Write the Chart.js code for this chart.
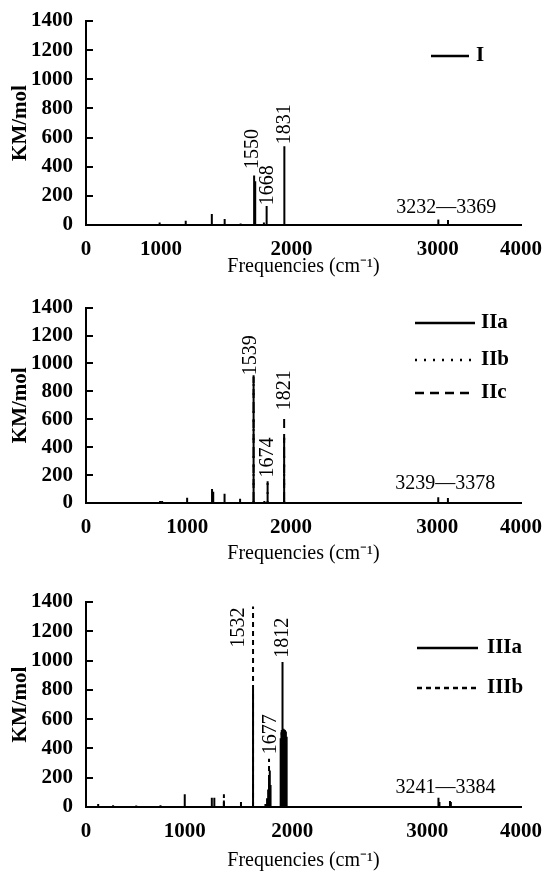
<!DOCTYPE html>
<html><head><meta charset="utf-8">
<script src="https://cdn.jsdelivr.net/npm/chart.js@4.4.0/dist/chart.umd.min.js"></script>
<style>
html,body{margin:0;padding:0;background:#fff;width:546px;height:871px;overflow:hidden}
.p{position:absolute;left:0;width:546px}
</style></head><body>
<div class="p" style="top:0;height:290px"><canvas id="c1"></canvas></div>
<div class="p" style="top:290px;height:290px"><canvas id="c2"></canvas></div>
<div class="p" style="top:580px;height:291px"><canvas id="c3"></canvas></div>
<script>
// ---------- data ----------
const xTickLabels = ['0', '1000', '2000', '3000', '4000'];
// values at which the reference prints each x tick label
const xTickPosI   = [0, 690, 1890, 3235, 4000];
const xTickPosII  = [0, 930, 1885, 3229, 4000];
const xTickPosIII = [0, 908, 1896, 3139, 4000];

// Panel I
const freqI = [230, 677, 917, 1157, 1275, 1422, 1546, 1556, 1636, 1661, 1824, 3240, 3329];
const intI  = [5, 18, 30, 75, 41, 11, 340, 300, 18, 130, 540, 38, 34];
const labelTextI = ['1550', '1668', '1831'];
const labelFreqI = [1530, 1668, 1826];
const labelValI  = [384, 135, 555];
const rangeTextI = '3232\u20143369';
const rangeFreqI = 3313, rangeValI = 117;

// Panel II
const freqIIa = [60, 240, 681, 700, 930, 1159, 1170, 1274, 1417, 1541, 1640, 1670, 1822, 3239, 3328];
const intIIa  = [5, 5, 15, 15, 37, 100, 80, 66, 30, 905, 15, 155, 470, 42, 35];
const freqIIb = [1541, 1670, 1822];
const intIIb  = [880, 150, 515];
const freqIIc = [1541, 1822];
const intIIc  = [915, 645];
const labelTextII = ['1539', '1674', '1821'];
const labelFreqII = [1519, 1669, 1828];
const labelValII  = [915, 183, 665];
const rangeTextII = '3239\u20143378';
const rangeFreqII = 3303, rangeValII = 136;

// Panel III
const freqIIIa = [112, 249, 462, 685, 908, 1157, 1180, 1268, 1425, 1536, 1650, 1665, 1675, 1683, 1690, 1697,
                  1790, 1797, 1807, 1815, 1822, 1830, 1838, 1845, 3241, 3347];
const intIIIa  = [20, 12, 10, 12, 87, 64, 64, 45, 34, 800, 20, 60, 120, 200, 250, 150,
                  470, 510, 990, 535, 530, 525, 515, 480, 64, 41];
const freqIIIb = [1268, 1536, 1683, 1800, 1826, 3250, 3355];
const intIIIb  = [87, 1370, 330, 540, 545, 50, 35];
const labelTextIII = ['1532', '1812', '1677'];
const labelFreqIII = [1409, 1807, 1695];
const labelValIII  = [1089, 1020, 360];
const rangeTextIII = '3241\u20143384';
const rangeFreqIII = 3306, rangeValIII = 132;

const yTickStep = 200;

// ---------- rendering ----------
const FONT = '"Liberation Serif", "Times New Roman", serif';
Chart.defaults.font.family = FONT;
Chart.defaults.color = '#000';

function sticks(freq, inten) {
  const d = [];
  freq.forEach((f, i) => { d.push({x: f, y: 0}, {x: f, y: inten[i]}, {x: f, y: null}); });
  return d;
}

const annot = {
  id: 'annot',
  afterDraw(chart, args, o) {
    const {ctx, chartArea} = chart;
    const x = chart.scales.x, y = chart.scales.y;
    ctx.save();
    ctx.fillStyle = '#000';
    ctx.strokeStyle = '#000';
    // inward y tick marks
    ctx.lineWidth = 2;
    y.ticks.forEach(t => {
      const py = Math.round(y.getPixelForValue(t.value));
      ctx.beginPath();
      ctx.moveTo(chartArea.left - 1, py);
      ctx.lineTo(chartArea.left + 7, py);
      ctx.stroke();
    });
    ctx.font = '20px ' + FONT;
    o.labelText.forEach((t, i) => {
      const px = x.getPixelForValue(o.labelFreq[i]);
      const py = y.getPixelForValue(o.labelVal[i]);
      ctx.save();
      ctx.translate(px, py);
      ctx.rotate(-Math.PI / 2);
      ctx.textAlign = 'left';
      ctx.textBaseline = 'middle';
      ctx.fillText(t, 0, 0);
      ctx.restore();
    });
    ctx.textAlign = 'center';
    ctx.textBaseline = 'middle';
    ctx.fillText(o.rangeText, x.getPixelForValue(o.rangeFreq), y.getPixelForValue(o.rangeVal));
    // legend
    const lg = o.legend;
    chart.data.datasets.forEach((ds, i) => {
      const yy = lg.ys[i];
      ctx.beginPath();
      ctx.setLineDash(ds.borderDash || []);
      ctx.lineWidth = 2.5;
      ctx.moveTo(lg.x0, yy);
      ctx.lineTo(lg.x1, yy);
      ctx.stroke();
      ctx.setLineDash([]);
      ctx.font = 'bold 21px ' + FONT;
      ctx.textAlign = 'left';
      ctx.textBaseline = 'middle';
      ctx.fillText(ds.label, lg.xt, yy);
    });
    ctx.restore();
  }
};

function makeChart(id, sets, tickPos, lay, ann) {
  return new Chart(document.getElementById(id), {
    type: 'line',
    data: {
      datasets: sets.map(s => ({
        label: s.label, data: sticks(s.f, s.v), borderColor: '#000', borderWidth: 2,
        borderDash: s.dash, pointRadius: 0, pointHoverRadius: 0, spanGaps: false,
        tension: 0, fill: false, borderCapStyle: 'butt'
      }))
    },
    options: {
      responsive: true, maintainAspectRatio: false, animation: false, devicePixelRatio: 1,
      events: [],
      layout: {padding: {left: 0, right: 23, top: lay.top, bottom: 0}},
      plugins: {legend: {display: false}, tooltip: {enabled: false}, annot: ann},
      scales: {
        x: {
          type: 'linear', min: 0, max: 4000,
          afterBuildTicks: s => { s.ticks = tickPos.map(v => ({value: v})); },
          afterFit: s => { s.height = lay.xh; },
          ticks: {autoSkip: false, maxRotation: 0, padding: 4, font: {size: 21, weight: 'bold'}, color: '#000',
                  callback: (v, i) => xTickLabels[i]},
          grid: {display: false},
          border: {display: true, width: 2, color: '#000'},
          title: {display: true, text: 'Frequencies (cm\u207B\u00B9)', color: '#000',
                  font: {size: 20, lineHeight: 1}, padding: {top: 0, bottom: lay.tpad}}
        },
        y: {
          min: 0, max: 1400,
          afterFit: s => { s.width = 86; },
          ticks: {stepSize: yTickStep, autoSkip: false, padding: 5, font: {size: 21, weight: 'bold'}, color: '#000',
                  callback: v => String(v)},
          grid: {display: false},
          border: {display: true, width: 2, color: '#000'},
          title: {display: true, text: 'KM/mol', color: '#000',
                  font: {size: 21, weight: 'bold', lineHeight: 1}, padding: {top: 10, bottom: 0}}
        }
      }
    },
    plugins: [annot]
  });
}

makeChart('c1',
  [{label: 'I', f: freqI, v: intI, dash: []}],
  xTickPosI, {top: 21, xh: 65, tpad: 13},
  {labelText: labelTextI, labelFreq: labelFreqI, labelVal: labelValI,
   rangeText: rangeTextI, rangeFreq: rangeFreqI, rangeVal: rangeValI,
   legend: {x0: 431, x1: 469, xt: 476, ys: [56]}});

makeChart('c2',
  [{label: 'IIa', f: freqIIa, v: intIIa, dash: []},
   {label: 'IIb', f: freqIIb, v: intIIb, dash: [2, 7]},
   {label: 'IIc', f: freqIIc, v: intIIc, dash: [9, 6]}],
  xTickPosII, {top: 15, xh: 77, tpad: 16},
  {labelText: labelTextII, labelFreq: labelFreqII, labelVal: labelValII,
   rangeText: rangeTextII, rangeFreq: rangeFreqII, rangeVal: rangeValII,
   legend: {x0: 415, x1: 475, xt: 481, ys: [33, 70, 103]}});

makeChart('c3',
  [{label: 'IIIa', f: freqIIIa, v: intIIIa, dash: []},
   {label: 'IIIb', f: freqIIIb, v: intIIIb, dash: [5, 4]}],
  xTickPosIII, {top: 22, xh: 64, tpad: 0},
  {labelText: labelTextIII, labelFreq: labelFreqIII, labelVal: labelValIII,
   rangeText: rangeTextIII, rangeFreq: rangeFreqIII, rangeVal: rangeValIII,
   legend: {x0: 417, x1: 478, xt: 487, ys: [68, 108]}});
</script>
</body></html>
